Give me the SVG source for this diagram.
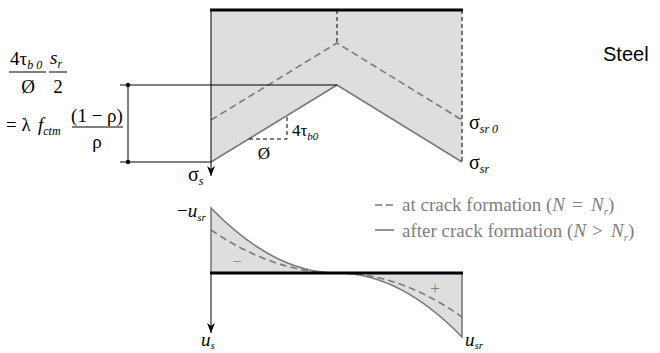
<svg xmlns="http://www.w3.org/2000/svg" width="660" height="353" viewBox="0 0 660 353">
<defs>
<style>
.t{font-family:"Liberation Serif","Times New Roman",serif;fill:#000}
.i{font-style:italic}
.g{fill:#808080}
.fill{fill:#dedede;stroke:none}
.gl{fill:none;stroke:#7a7a7a;stroke-width:1.6}
.gd{fill:none;stroke:#7a7a7a;stroke-width:1.6;stroke-dasharray:7,4}
.bk{fill:none;stroke:#000;stroke-width:1}
.bd{fill:none;stroke:#000;stroke-width:1;stroke-dasharray:4,3}
.thick{fill:none;stroke:#000;stroke-width:3}
</style>
<marker id="arr" markerWidth="10" markerHeight="8" refX="10" refY="4" orient="auto" markerUnits="userSpaceOnUse" viewBox="0 0 10 8">
<path d="M0,0 L10,4 L0,8 L3,4 Z" fill="#000"/>
</marker>
</defs>

<g id="stress-diagram">
<polygon class="fill" points="211,10 462,10 462,162 337,85 211,162"/>
<polyline class="gd" points="211,120 337,43 462,120"/>
<polyline class="gl" points="211,162 337,85 462,162"/>
<line class="bd" x1="337" y1="10" x2="337" y2="43"/>
<line class="bd" x1="462" y1="10" x2="462" y2="162"/>
<polyline class="bd" points="249,139 287,139 287,116"/>
<line class="thick" x1="210" y1="10" x2="463" y2="10"/>
</g>

<g id="connectors">
<line class="bk" x1="211" y1="10" x2="211" y2="176" marker-end="url(#arr)"/>
<line class="bk" x1="120" y1="85" x2="337" y2="85"/>
<line class="bk" x1="120" y1="162" x2="211" y2="162"/>
<line class="bk" x1="128" y1="85" x2="128" y2="162"/>
<circle cx="128" cy="85" r="2.2" fill="#000"/>
<circle cx="128" cy="162" r="2.2" fill="#000"/>
<line class="bk" x1="211" y1="273" x2="211" y2="333" marker-end="url(#arr)"/>
</g>

<g id="slip-diagram">
<path class="fill" d="M211,208 Q274,273 337,273 L211,273 Z"/>
<path class="fill" d="M337,273 Q400,273 462,337 L462,273 Z"/>
<path class="gl" d="M211,273 L211,208 Q274,273 337,273 Q400,273 462,337 L462,273"/>
<path class="gd" d="M211,230 Q274,273 337,273 Q400,273 462,317"/>
<line class="thick" x1="210" y1="273" x2="463" y2="273"/>
<text class="t g" x="237" y="267" font-size="17" text-anchor="middle">−</text>
<text class="t g" x="435" y="294" font-size="17" text-anchor="middle">+</text>
</g>

<g id="formula">
<text class="t" x="10" y="65" font-size="19">4τ<tspan class="i" font-size="12" dy="4">b 0</tspan></text>
<line class="bk" x1="9" y1="72" x2="46" y2="72"/>
<text class="t" x="28" y="93" font-size="19" text-anchor="middle">Ø</text>
<text class="t i" x="50" y="64" font-size="19">s<tspan font-size="12" dy="4">r</tspan></text>
<line class="bk" x1="49" y1="72" x2="67" y2="72"/>
<text class="t" x="58" y="93" font-size="19" text-anchor="middle">2</text>
<text class="t" x="6" y="131" font-size="19">= λ <tspan class="i" x="38">f</tspan><tspan class="i" font-size="12" dy="4">ctm</tspan></text>
<text class="t" x="97" y="122" font-size="19" text-anchor="middle">(1 − ρ)</text>
<line class="bk" x1="72" y1="127" x2="123" y2="127"/>
<text class="t" x="97" y="148" font-size="19" text-anchor="middle">ρ</text>
</g>

<g id="labels">
<text class="t" x="188" y="181" font-size="20">σ<tspan class="i" font-size="12" dy="4">s</tspan></text>
<text class="t" x="469" y="129" font-size="20">σ<tspan class="i" font-size="12" dy="4">sr 0</tspan></text>
<text class="t" x="469" y="169" font-size="20">σ<tspan class="i" font-size="12" dy="4">sr</tspan></text>
<text class="t" x="264" y="159" font-size="17" text-anchor="middle">Ø</text>
<text class="t" x="292" y="136" font-size="17">4τ<tspan class="i" font-size="11" dy="4">b0</tspan></text>
<text class="t" x="177" y="217" font-size="19"><tspan>−</tspan><tspan class="i">u</tspan><tspan class="i" font-size="11" dy="4">sr</tspan></text>
<text class="t i" x="201" y="346" font-size="19">u<tspan font-size="11" dy="3">s</tspan></text>
<text class="t i" x="465" y="346" font-size="19">u<tspan font-size="11" dy="3">sr</tspan></text>
<text x="603" y="61" font-family="'Liberation Sans',Arial,sans-serif" font-size="20" fill="#000">Steel</text>
</g>

<g id="legend">
<line class="gd" x1="375" y1="205" x2="394" y2="205" stroke-dasharray="4,2.5"/>
<line class="gl" x1="375" y1="230" x2="394" y2="230"/>
<text class="t g" x="402" y="211" font-size="19">at crack formation (<tspan class="i">N</tspan><tspan x="572">=</tspan><tspan class="i" x="591">N</tspan><tspan class="i" font-size="11" dy="4">r</tspan><tspan dy="-4">)</tspan></text>
<text class="t g" x="402" y="237" font-size="19">after crack formation (<tspan class="i">N</tspan><tspan x="592">&gt;</tspan><tspan class="i" x="611">N</tspan><tspan class="i" font-size="11" dy="4">r</tspan><tspan dy="-4">)</tspan></text>
</g>
</svg>
